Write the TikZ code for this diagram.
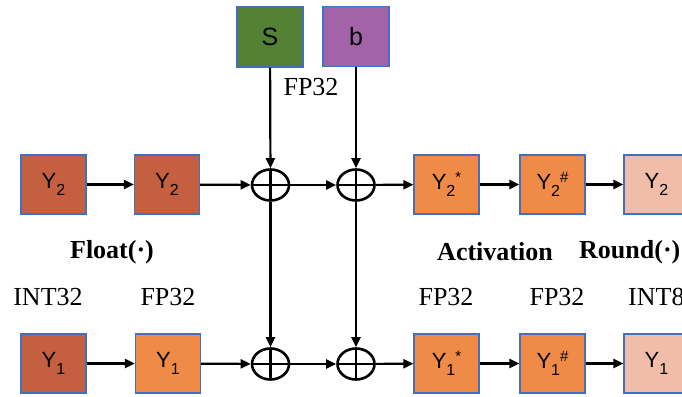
\documentclass[tikz,border=0pt]{standalone}
\usepackage{fontspec}
\setmainfont{Liberation Serif}
\setsansfont{Liberation Sans}
\usetikzlibrary{arrows.meta,shapes.geometric}
\definecolor{cbrown}{HTML}{C4603F}
\definecolor{corange}{HTML}{EF8A47}
\definecolor{cpink}{HTML}{F0BDA9}
\definecolor{cgreen}{HTML}{548235}
\definecolor{cpurple}{HTML}{A263A8}
\definecolor{cborder}{HTML}{4270BF}
\newcommand\yl[2]{Y\raisebox{-7pt}{\fontsize{16}{16}\selectfont #1}#2}
\newcommand\ysup[1]{\raisebox{7pt}{\fontsize{15}{15}\selectfont #1}}
\begin{document}
\begin{tikzpicture}[x=1pt,y=-1pt,
  box/.style={draw=cborder,line width=1.3pt,minimum width=65pt,minimum height=59pt,inner sep=0pt,
    font=\sffamily\fontsize{22}{24}\selectfont},
  sumnode/.style={ellipse,draw,line width=2.6pt,minimum width=37pt,minimum height=31pt,inner sep=0pt,
    path picture={\draw[line width=2.2pt] (path picture bounding box.north) -- (path picture bounding box.south);
      \draw[line width=2.2pt] (path picture bounding box.west) -- (path picture bounding box.east);}},
  conn/.style={line width=2.2pt,-{Triangle[length=10pt,width=9pt]}},
  lbl/.style={font=\fontsize{26}{28}\selectfont,inner sep=0pt},
  blbl/.style={font=\bfseries\fontsize{26}{28}\selectfont,inner sep=0pt}]
\useasboundingbox (0,0) rectangle (682,396);
\begin{scope}
\clip (0,0) rectangle (682,396);
% top row
\node[box,fill=cbrown] (a2) at (53.5,184.5) {\yl{2}{}};
\node[box,fill=cbrown] (b2) at (167,184.5) {\yl{2}{}};
\node[sumnode] (c1) at (270.5,185) {};
\node[sumnode] (c2) at (356,185) {};
\node[box,fill=corange] (d2) at (446.5,184.5) {\yl{2}{\ysup{*}}};
\node[box,fill=corange] (e2) at (552.5,184.5) {\yl{2}{\ysup{\#}}};
\node[box,fill=cpink] (f2) at (656.5,184.5) {\yl{2}{}};
% bottom row
\node[box,fill=cbrown] (a1) at (53.5,363.5) {\yl{1}{}};
\node[box,fill=corange] (b1) at (168,363.5) {\yl{1}{}};
\node[sumnode] (c3) at (270.5,364) {};
\node[sumnode] (c4) at (356,364) {};
\node[box,fill=corange] (d1) at (446.5,363.5) {\yl{1}{\ysup{*}}};
\node[box,fill=corange] (e1) at (552.5,363.5) {\yl{1}{\ysup{\#}}};
\node[box,fill=cpink] (f1) at (656.5,363.5) {\yl{1}{}};
% S and b
\node[box,fill=cgreen,minimum width=66pt,minimum height=60pt,font=\sffamily\fontsize{25}{27}\selectfont] (s) at (270,37) {S};
\node[box,fill=cpurple,minimum width=66pt,minimum height=60pt,font=\sffamily\fontsize{25}{27}\selectfont] (bb) at (356,36.5) {b};
% labels
\node[lbl] (t0) at (311,87) {FP32};
\node[blbl] (t1) at (112,252) {Float(·)};
\node[blbl] (t2) at (495,252) {Activation};
\node[blbl,anchor=west] (t3) at (579,252) {Round(·)};
\node[lbl] (t4) at (48,297) {INT32};
\node[lbl] (t5) at (168,297) {FP32};
\node[lbl] (t6) at (446,297) {FP32};
\node[lbl] (t7) at (557,297) {FP32};
\node[lbl,anchor=west] (t8) at (628,297) {INT8};
% connectors
\draw[conn] (a2) -- (b2);
\draw[conn] (b2) -- (c1);
\draw[conn] (c1) -- (c2);
\draw[conn] (c2) -- (d2);
\draw[conn] (d2) -- (e2);
\draw[conn] (e2) -- (f2);
\draw[conn] (a1) -- (b1);
\draw[conn] (b1) -- (c3);
\draw[conn] (c3) -- (c4);
\draw[conn] (c4) -- (d1);
\draw[conn] (d1) -- (e1);
\draw[conn] (e1) -- (f1);
\draw[conn] (s) -- (c1);
\draw[conn] (c1) -- (c3);
\draw[conn] (bb) -- (c2);
\draw[conn] (c2) -- (c4);
\end{scope}
\end{tikzpicture}
\end{document}
